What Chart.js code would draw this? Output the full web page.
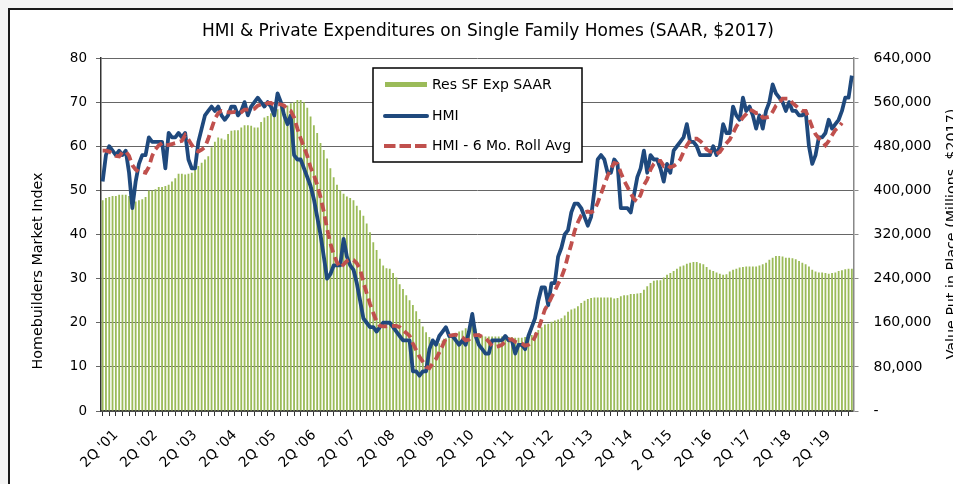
<!DOCTYPE html>
<html>
<head>
<meta charset="utf-8">
<title>HMI & Private Expenditures on Single Family Homes</title>
<script src="https://cdn.jsdelivr.net/npm/chart.js@4.4.1/dist/chart.umd.min.js"></script>
<style>
  html, body { margin: 0; padding: 0; background: #f4f4f4; }
  canvas { display: block; }
</style>
</head>
<body>
<canvas id="hmiChart" width="953" height="484"></canvas>
<script>
// Meses: jan/2001 .. dez/2019
const months = [];
for (let y = 2001; y <= 2019; y++) {
    for (let m = 1; m <= 12; m++) months.push(y + '-' + String(m).padStart(2, '0'));
}

// Rotulos do eixo x (um por ano)
const tickLabels = ["2Q '01", "2Q '02", "2Q '03", "2Q '04", "2Q '05", "2Q '06", "2Q '07",
    "2Q '08", "2Q '09", "2Q '10", "2Q '11", "2Q '12", "2Q '13", "2Q '14", "2 Q '15",
    "2Q '16", "2Q '17", "2Q '18", "2Q '19"];

// HMI mensal
const hmi = [
    52, 58, 60, 59, 58, 59, 58, 59, 54, 46, 52, 56,
    58, 58, 62, 61, 61, 61, 61, 55, 63, 62, 62, 63,
    62, 63, 57, 55, 55, 61, 64, 67, 68, 69, 68, 69,
    67, 66, 67, 69, 69, 67, 68, 70, 67, 69, 70, 71,
    70, 69, 70, 69, 67, 72, 70, 67, 65, 67, 58, 57,
    57, 55, 53, 51, 48, 44, 40, 35, 30, 31, 33, 33,
    33, 39, 35, 33, 32, 29, 25, 21, 20, 19, 19, 18,
    19, 20, 20, 20, 19, 18, 17, 16, 16, 16, 9, 9,
    8, 9, 9, 14, 16, 15, 17, 18, 19, 17, 17, 16,
    15, 16, 15, 18, 22, 17, 15, 14, 13, 13, 16, 16,
    16, 16, 17, 16, 16, 13, 15, 15, 14, 17, 19, 21,
    25, 28, 28, 24, 29, 29, 35, 37, 40, 41, 45, 47,
    47, 46, 44, 42, 44, 50, 57, 58, 57, 54, 54, 57,
    56, 46, 46, 46, 45, 49, 53, 55, 59, 54, 58, 57,
    57, 55, 52, 56, 54, 59, 60, 61, 62, 65, 61, 61,
    60, 58, 58, 58, 58, 60, 58, 60, 65, 63, 63, 69,
    67, 66, 71, 68, 69, 67, 64, 67, 64, 68, 70, 74,
    72, 71, 70, 68, 70, 68, 68, 67, 67, 68, 60, 56,
    58, 62, 62, 63, 66, 64, 65, 66, 68, 71, 71, 76
];

// HMI - media movel de 6 meses (termina em set/2019)
const hmiAvg = [
    59, 59, 58.8, 58.3, 57.8, 57.7, 58.7, 58.8, 57.8, 55.7, 54.7, 54.2,
    54.2, 54, 55.3, 57.8, 59.3, 60.2, 60.7, 60.2, 60.3, 60.5, 60.7, 61,
    61.2, 62.5, 61.5, 60.3, 59.2, 58.8, 59.2, 59.8, 61.7, 64, 66.2, 67.5,
    68, 67.8, 67.7, 67.7, 67.8, 67.5, 67.7, 68.3, 68.3, 68.3, 68.5, 69.2,
    69.5, 69.3, 69.8, 69.8, 69.3, 69.5, 69.5, 69.2, 68.3, 68, 66.5, 64,
    61.8, 59.8, 57.8, 55.2, 53.5, 51.3, 48.5, 45.2, 41.3, 38, 35.5, 33.7,
    32.5, 33.2, 34, 34.3, 34.2, 33.5, 32.2, 29.2, 26.7, 24.3, 22.2, 20.3,
    19.3, 19.2, 19.2, 19.3, 19.3, 19.3, 19, 18.3, 17.7, 17, 15.3, 13.8,
    12.3, 11.2, 10, 9.7, 10.8, 11.8, 13.3, 14.8, 16.5, 17, 17.2, 17.3,
    17, 16.7, 16, 16.2, 17, 17.2, 17.2, 16.8, 16.5, 15.7, 14.7, 14.5,
    14.7, 15, 15.7, 16.2, 16.2, 15.7, 15.5, 15.3, 14.8, 15, 15.5, 16.8,
    18.5, 20.7, 23, 24.2, 25.8, 27.2, 28.8, 30.3, 32.3, 35.2, 37.8, 40.8,
    42.8, 44.3, 45, 45.2, 45, 45.5, 47.2, 49.2, 51.3, 53.3, 55, 56.2,
    56, 54, 52.2, 50.8, 49.3, 48, 47.5, 49, 51.2, 52.5, 54.7, 56,
    56.7, 56.7, 55.5, 55.8, 55.2, 55.5, 56, 57, 58.7, 60.2, 61.3, 61.7,
    61.7, 61.2, 60.5, 59.3, 58.8, 58.7, 58.3, 58.7, 59.8, 60.7, 61.5, 63,
    64.5, 65.5, 66.5, 67.3, 68.3, 68, 67.5, 67.7, 66.5, 66.5, 66.7, 67.8,
    69.2, 69.8, 70.8, 70.8, 70.8, 69.8, 69.2, 68.5, 68, 68, 66.3, 64.3,
    62.7, 61.8, 61, 60.2, 61.2, 62.5, 63.7, 64.3, 65.3, null, null, null
];

// Gasto residencial unifamiliar SAAR (milhoes, $2017)
const sfSpend = [
    382000, 386000, 388000, 390000, 390000, 392000, 392000, 392000, 390000, 380000, 380000, 382000,
    384000, 388000, 400000, 400000, 402000, 406000, 406000, 408000, 410000, 416000, 422000, 430000,
    430000, 429000, 430000, 432000, 437000, 444000, 450000, 456000, 462000, 478000, 488000, 496000,
    494000, 492000, 502000, 508000, 509000, 509000, 514000, 518000, 518000, 517000, 514000, 514000,
    524000, 532000, 535000, 540000, 544000, 547000, 552000, 555000, 554000, 558000, 560000, 564000,
    564000, 560000, 550000, 534000, 518000, 504000, 486000, 473000, 458000, 440000, 424000, 410000,
    400000, 394000, 389000, 386000, 382000, 372000, 364000, 354000, 340000, 324000, 306000, 292000,
    276000, 264000, 259000, 258000, 250000, 242000, 230000, 221000, 210000, 201000, 192000, 181000,
    167000, 153000, 143000, 134000, 126000, 122000, 123000, 128000, 132000, 136000, 138000, 141000,
    144000, 146000, 150000, 154000, 156000, 149000, 141000, 136000, 135000, 135000, 135000, 135000,
    135000, 135000, 135000, 134000, 134000, 133000, 133000, 133000, 134000, 135000, 138000, 142000,
    147000, 152000, 157000, 158000, 162000, 164000, 166000, 168000, 173000, 180000, 184000, 186000,
    190000, 196000, 200000, 203000, 205000, 206000, 206000, 206000, 206000, 206000, 206000, 204000,
    205000, 208000, 210000, 210000, 212000, 212000, 213000, 214000, 220000, 226000, 232000, 236000,
    237000, 237000, 242000, 247000, 250000, 254000, 258000, 262000, 264000, 267000, 269000, 270000,
    270000, 268000, 266000, 261000, 256000, 254000, 251000, 249000, 247000, 248000, 253000, 256000,
    258000, 260000, 261000, 262000, 262000, 262000, 262000, 264000, 266000, 269000, 274000, 278000,
    281000, 281000, 280000, 278000, 278000, 277000, 275000, 272000, 269000, 266000, 262000, 256000,
    253000, 251000, 251000, 250000, 249000, 250000, 251000, 254000, 255000, 257000, 258000, 258000
];

const FONT = 'DejaVu Sans';

// Moldura, titulo, titulos dos eixos e legenda
const decorPlugin = {
    id: 'decor',
    beforeDraw(chart) {
        const c = chart.ctx;
        c.save();
        c.fillStyle = '#f4f4f4';
        c.fillRect(0, 0, chart.width, chart.height);
        c.fillStyle = '#ffffff';
        c.fillRect(9, 9, chart.width, chart.height);
        c.strokeStyle = '#1a1a1a';
        c.lineWidth = 2;
        c.beginPath();
        c.moveTo(9, chart.height);
        c.lineTo(9, 9);
        c.lineTo(chart.width, 9);
        c.stroke();
        c.restore();
    },
    afterDraw(chart) {
        const c = chart.ctx;
        c.save();
        c.fillStyle = '#000';
        c.textBaseline = 'middle';

        // titulo
        c.font = '17px "' + FONT + '"';
        c.textAlign = 'center';
        c.fillText('HMI & Private Expenditures on Single Family Homes (SAAR, $2017)', 488, 32);

        // titulos dos eixos
        c.font = '14.3px "' + FONT + '"';
        c.save();
        c.translate(38, 271);
        c.rotate(-Math.PI / 2);
        c.fillText('Homebuilders Market Index', 0, 0);
        c.restore();
        c.save();
        c.translate(952, 234);
        c.rotate(-Math.PI / 2);
        c.fillText('Value Put in Place (Millions, $2017)', 0, 0);
        c.restore();

        // legenda
        c.fillStyle = '#fff';
        c.fillRect(373, 68, 209, 94);
        c.strokeStyle = '#000';
        c.lineWidth = 1.5;
        c.strokeRect(373, 68, 209, 94);

        c.fillStyle = '#9bbb59';
        c.fillRect(385, 82, 42, 5);

        c.lineWidth = 4;
        c.strokeStyle = '#1f497d';
        c.lineCap = 'round';
        c.beginPath();
        c.moveTo(385, 116);
        c.lineTo(427, 116);
        c.stroke();

        c.strokeStyle = '#c0504d';
        c.lineCap = 'butt';
        c.setLineDash([11.5, 4]);
        c.beginPath();
        c.moveTo(384, 146);
        c.lineTo(427, 146);
        c.stroke();
        c.setLineDash([]);

        c.fillStyle = '#000';
        c.textAlign = 'left';
        c.font = '14px "' + FONT + '"';
        c.fillText('Res SF Exp SAAR', 432, 85);
        c.fillText('HMI', 432, 116);
        c.fillText('HMI - 6 Mo. Roll Avg', 432, 146);
        c.restore();
    }
};

const ctx = document.getElementById('hmiChart').getContext('2d');
const hmiChart = new Chart(ctx, {
    type: 'bar',
    data: {
        labels: months,
        datasets: [{
            type: 'line',
            label: 'HMI - 6 Mo. Roll Avg',
            data: hmiAvg,
            yAxisID: 'y',
            borderColor: '#c0504d',
            borderWidth: 3.8,
            borderDash: [9, 5],
            pointRadius: 0,
            tension: 0,
            order: 0
        }, {
            type: 'line',
            label: 'HMI',
            data: hmi,
            yAxisID: 'y',
            borderColor: '#1f497d',
            borderWidth: 3.8,
            borderJoinStyle: 'round',
            pointRadius: 0,
            tension: 0,
            order: 1
        }, {
            type: 'bar',
            label: 'Res SF Exp SAAR',
            data: sfSpend,
            yAxisID: 'y1',
            backgroundColor: '#9bbb59',
            barPercentage: 0.55,
            categoryPercentage: 1,
            order: 2
        }]
    },
    options: {
        responsive: false,
        animation: false,
        layout: { padding: { top: 58, left: 0, right: 0, bottom: 0 } },
        plugins: {
            legend: { display: false },
            tooltip: { enabled: false },
            title: { display: false }
        },
        scales: {
            x: {
                offset: true,
                grid: {
                    offset: false,
                    drawOnChartArea: false,
                    tickLength: 5,
                    color: c => c.index % 2 === 0 ? '#333' : 'rgba(0,0,0,0)'
                },
                border: { color: '#333', width: 1.5 },
                ticks: {
                    autoSkip: false,
                    minRotation: 45,
                    maxRotation: 45,
                    padding: 11,
                    color: '#000',
                    font: { family: FONT, size: 14 },
                    callback: (v, i) => i % 12 === 4 ? tickLabels[(i - 4) / 12] : ''
                },
                afterFit: s => { s.height = 73; }
            },
            y: {
                position: 'left',
                min: 0,
                max: 80,
                ticks: {
                    stepSize: 10,
                    padding: 9,
                    color: '#000',
                    font: { family: FONT, size: 13.5 }
                },
                grid: { color: '#666', tickLength: 5 },
                border: { color: '#333', width: 1.5 },
                afterFit: s => { s.width = 101; }
            },
            y1: {
                position: 'right',
                min: 0,
                max: 640000,
                ticks: {
                    stepSize: 80000,
                    padding: 15,
                    color: '#000',
                    font: { family: FONT, size: 14 },
                    callback: v => v === 0 ? '-' : v.toLocaleString('en-US')
                },
                grid: { drawOnChartArea: false, color: '#888', tickLength: 5 },
                border: { color: '#888', width: 1.5 },
                afterFit: s => { s.width = 99.5; }
            }
        }
    },
    plugins: [decorPlugin]
});
</script>
</body>
</html>
